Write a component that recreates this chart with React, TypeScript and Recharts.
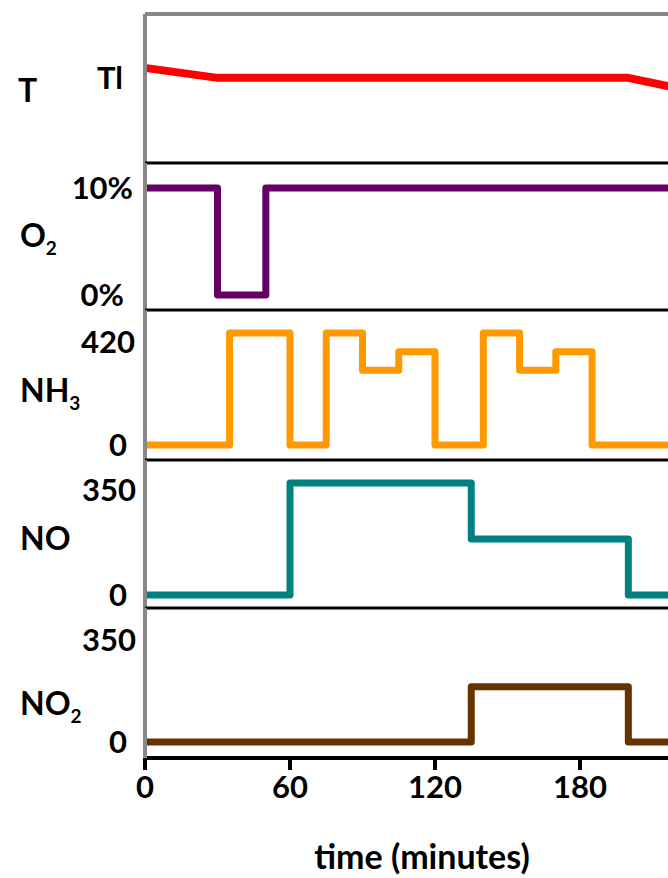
import React from 'react';
import { LineChart, Line, XAxis, YAxis, ReferenceLine, Label } from 'recharts';

// ---- data ----
const tTime = [0, 30, 200, 240];
const tValue = [1.117, 1.0, 1.0, 0.765];

const o2Time = [0, 30, 50, 240];
const o2Value = [10, 0, 10, 10];

const nh3Time = [0, 35, 60, 75, 90, 105, 120, 140, 155, 170, 185, 240];
const nh3Value = [0, 420, 0, 420, 280, 350, 0, 420, 280, 350, 0, 0];

const noTime = [0, 60, 135, 200, 240];
const noValue = [0, 350, 175, 0, 0];

const no2Time = [0, 135, 200, 240];
const no2Value = [0, 190, 0, 0];

const xTicks = [0, 60, 120, 180];

const FONT = 'Lato, "Liberation Sans", sans-serif';
const W = 725;
const PAD = 4;

const toRows = (ts: number[], vs: number[]) => ts.map((t, i) => ({ t, v: vs[i] }));

type PanelCfg = {
  key: string;
  top: number;
  bottom: number;
  domain: [number, number];
  ticks: number[];
  tickLabels: string[];
  tickOffsets: number[];
  tickDx: number[];
  tickRight: number;
  data: { t: number; v: number }[];
  color: string;
  width: number;
  step: boolean;
  label: string;
  sub?: string;
  labelBaseline: number;
  labelX: number;
  topLine: string;
  topLineWidth: number;
  last?: boolean;
};

const panels: PanelCfg[] = [
  {
    key: 'T', top: 14, bottom: 163, domain: [0, 1.75], ticks: [1], tickLabels: ['Tl'], tickOffsets: [0], tickDx: [0], tickRight: 123,
    data: toRows(tTime, tValue), color: '#ff0000', width: 8, step: false, label: 'T', labelBaseline: 102, labelX: 18,
    topLine: '#888888', topLineWidth: 4,
  },
  {
    key: 'O2', top: 163, bottom: 310, domain: [-1.4, 12.34], ticks: [0, 10], tickLabels: ['0%', '10%'], tickOffsets: [0, 0], tickDx: [-9, 0], tickRight: 133,
    data: toRows(o2Time, o2Value), color: '#660066', width: 7, step: true, label: 'O', sub: '2', labelBaseline: 247, labelX: 20,
    topLine: '#000000', topLineWidth: 3,
  },
  {
    key: 'NH3', top: 310, bottom: 460, domain: [-56, 506], ticks: [0, 420], tickLabels: ['0', '420'], tickOffsets: [0, 9], tickDx: [-6, 2], tickRight: 133,
    data: toRows(nh3Time, nh3Value), color: '#ff9900', width: 7, step: true, label: 'NH', sub: '3', labelBaseline: 402, labelX: 20,
    topLine: '#000000', topLineWidth: 3,
  },
  {
    key: 'NO', top: 460, bottom: 608, domain: [-41, 422], ticks: [0, 350], tickLabels: ['0', '350'], tickOffsets: [0, 7], tickDx: [-6, 3], tickRight: 133,
    data: toRows(noTime, noValue), color: '#008080', width: 7, step: true, label: 'NO', labelBaseline: 550, labelX: 20,
    topLine: '#000000', topLineWidth: 3,
  },
  {
    key: 'NO2', top: 608, bottom: 758, domain: [-55, 460], ticks: [0, 350], tickLabels: ['0', '350'], tickOffsets: [0, 0], tickDx: [-6, 3], tickRight: 133,
    data: toRows(no2Time, no2Value), color: '#663300', width: 7, step: true, label: 'NO', sub: '2', labelBaseline: 715, labelX: 20,
    topLine: '#000000', topLineWidth: 3, last: true,
  },
];

const X_AXIS_H = 120;

function Panel({ cfg }: { cfg: PanelCfg }) {
  const chartTop = cfg.top - PAD;
  const plotH = cfg.bottom - cfg.top;
  const height = cfg.last ? plotH + PAD + X_AXIS_H : plotH + 2 * PAD;
  const margin = { top: PAD, bottom: cfg.last ? 0 : PAD, left: 0, right: 0 };

  const yTick = (props: any) => {
    const idx = cfg.ticks.indexOf(props.payload.value);
    return (
      <text
        x={cfg.tickRight + (cfg.tickDx[idx] || 0)}
        y={props.y + (cfg.tickOffsets[idx] || 0)}
        dy="0.36em"
        textAnchor="end"
        fontFamily={FONT}
        fontWeight={700}
        fontSize={31}
        fill="#000"
      >
        {cfg.tickLabels[idx]}
      </text>
    );
  };

  const xTick = (props: any) => (
    <text
      x={props.x}
      y={798 - chartTop}
      textAnchor="middle"
      fontFamily={FONT}
      fontWeight={700}
      fontSize={31}
      fill="#000"
    >
      {props.payload.value}
    </text>
  );

  const panelLabel = () => (
    <text x={cfg.labelX} y={cfg.labelBaseline - chartTop} fontFamily={FONT} fontWeight={700} fontSize={32} fill="#000">
      {cfg.label}
      {cfg.sub ? (
        <tspan fontSize={19} dy={8}>{cfg.sub}</tspan>
      ) : null}
    </text>
  );

  return (
    <div style={{ position: 'absolute', left: 0, top: chartTop, width: W, height }}>
      <LineChart width={W} height={height} data={cfg.data} margin={margin}>
        <XAxis
          dataKey="t"
          type="number"
          domain={[0, 240]}
          ticks={xTicks}
          hide={!cfg.last}
          height={cfg.last ? X_AXIS_H : 0}
          axisLine={{ stroke: '#000', strokeWidth: 4 }}
          tickLine={{ stroke: '#000', strokeWidth: 4 }}
          tickSize={12}
          tick={xTick}
          interval={0}
        >
          {cfg.last ? (
            <Label
              content={() => (
                <text x={422} y={869 - chartTop} textAnchor="middle" fontFamily={FONT} fontWeight={700} fontSize={34} fill="#000">
                  time (minutes)
                </text>
              )}
            />
          ) : null}
        </XAxis>
        <YAxis
          type="number"
          domain={cfg.domain}
          ticks={cfg.ticks}
          width={145}
          axisLine={{ stroke: '#888888', strokeWidth: 4 }}
          tickLine={false}
          tick={yTick}
          interval={0}
          allowDataOverflow
        >
          <Label content={panelLabel} />
        </YAxis>
        <ReferenceLine y={cfg.domain[1]} stroke={cfg.topLine} strokeWidth={cfg.topLineWidth} />
        <Line
          type={cfg.step ? 'stepAfter' : 'linear'}
          dataKey="v"
          stroke={cfg.color}
          strokeWidth={cfg.width}
          strokeLinejoin="round"
          dot={false}
          activeDot={false}
          isAnimationActive={false}
        />
      </LineChart>
    </div>
  );
}

export default function App() {
  return (
    <div style={{ position: 'fixed', left: 0, top: 0, width: 668, height: 878, overflow: 'hidden', background: '#fff' }}>
      {panels.map((p) => (
        <Panel key={p.key} cfg={p} />
      ))}
    </div>
  );
}
